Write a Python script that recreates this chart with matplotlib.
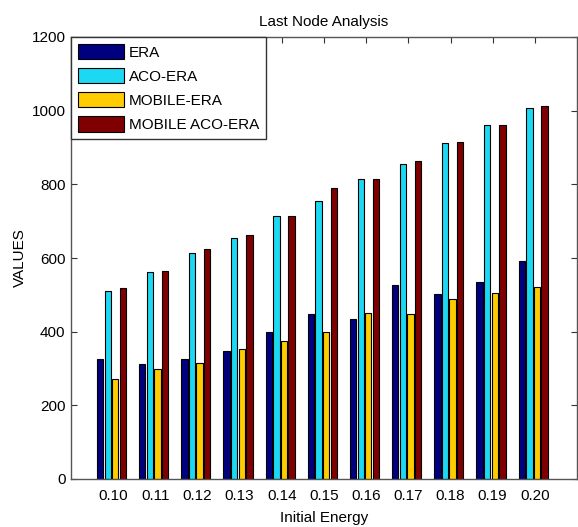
import numpy as np
import matplotlib.pyplot as plt
from matplotlib import font_manager

# pick a narrow sans if one is around
names = {f.name for f in font_manager.fontManager.ttflist}
font = 'Liberation Sans Narrow' if 'Liberation Sans Narrow' in names else 'Liberation Sans'
plt.rcParams['font.family'] = [font, 'DejaVu Sans']

energy = ['0.10', '0.11', '0.12', '0.13', '0.14', '0.15', '0.16', '0.17', '0.18', '0.19', '0.20']
series = ['ERA', 'ACO-ERA', 'MOBILE-ERA', 'MOBILE ACO-ERA']
era = [326, 311, 326, 347, 400, 449, 434, 526, 501, 536, 593]
aco_era = [511, 561, 614, 653, 715, 755, 814, 856, 912, 960, 1006]
mobile_era = [272, 298, 315, 353, 375, 399, 452, 449, 490, 505, 522]
mobile_aco_era = [519, 565, 624, 663, 715, 789, 814, 863, 916, 960, 1013]
colors = ['#00007f', '#1cd8f2', '#ffcc00', '#7f0000']

fig = plt.figure(figsize=(5.78, 5.27), dpi=100)
ax = fig.add_axes([71 / 578, 1 - 479 / 527, 506 / 578, 442 / 527])

x = np.arange(1, len(energy) + 1)
step, width = 0.18, 0.15
for i, (vals, name, c) in enumerate(zip([era, aco_era, mobile_era, mobile_aco_era], series, colors)):
    ax.bar(x + (i - 1.5) * step - 0.04, vals, width, color=c, edgecolor='black',
           linewidth=0.8, label=name, zorder=2)

ax.set_xlim(0, 12)
ax.set_ylim(0, 1200)
ax.set_xticks(x)
ax.set_xticklabels(energy)
ax.set_yticks(np.arange(0, 1201, 200))
ax.tick_params(direction='in', top=True, right=True, length=4, width=0.8,
               labelsize=11, colors='#333333', labelcolor='black', pad=4)
ax.tick_params(axis='x', pad=7)
for s in ax.spines.values():
    s.set_color('#555555')
    s.set_linewidth(1.0)

ax.set_title('Last Node Analysis', fontsize=11, pad=8)
ax.set_xlabel('Initial Energy', fontsize=11, labelpad=6)
ax.set_ylabel('VALUES', fontsize=11, labelpad=3)

leg = ax.legend(loc='upper left', bbox_to_anchor=(0, 1), borderaxespad=0,
                fontsize=11, fancybox=False, framealpha=1, edgecolor='#333333',
                handlelength=3.0, handleheight=1.15, handletextpad=0.35,
                labelspacing=0.55, borderpad=0.45)
leg.get_frame().set_linewidth(1.0)
for h in leg.legend_handles:
    h.set_edgecolor('black')

fig.savefig('out.png', dpi=100)
